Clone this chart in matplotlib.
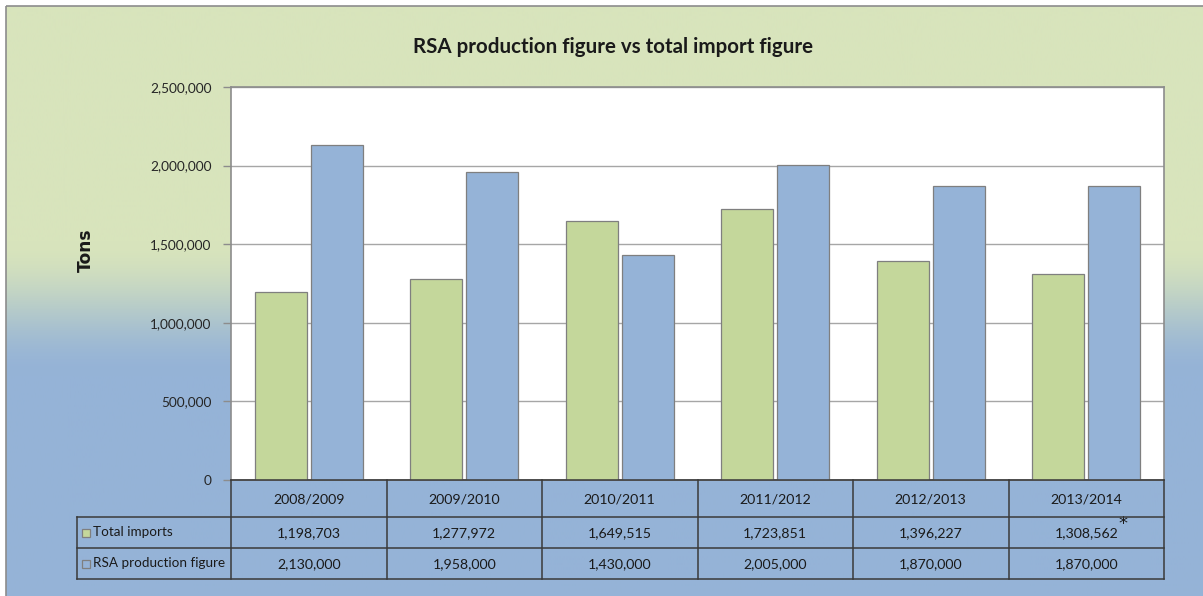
import numpy as np
import matplotlib
matplotlib.use("Agg")
import matplotlib.pyplot as plt
import matplotlib.transforms as mtransforms
from matplotlib.patches import Rectangle
from matplotlib.ticker import FuncFormatter

# ---- data ----
seasons = ["2008/2009", "2009/2010", "2010/2011", "2011/2012", "2012/2013", "2013/2014"]
total_imports = [1198703, 1277972, 1649515, 1723851, 1396227, 1308562]
rsa_production = [2130000, 1958000, 1430000, 2005000, 1870000, 1870000]
series_names = ["Total imports", "RSA production figure"]
title = "RSA production figure vs total import figure"

W, H = 1203, 596
GREEN = "#C4D79B"
BLUE = "#95B3D7"
BG_GREEN = np.array([0xD8, 0xE4, 0xBC]) / 255
BG_BLUE = np.array([0x95, 0xB3, 0xD7]) / 255
FONT = "Lato"

fig = plt.figure(figsize=(W / 100, H / 100), dpi=100)
fig.patch.set_facecolor("white")

# background gradient axes (pixel coords)
bg = fig.add_axes([0, 0, 1, 1])
bg.set_xlim(0, W)
bg.set_ylim(H, 0)
bg.axis("off")
ys = np.arange(H)
t = np.clip((ys - 235) / (370 - 235), 0, 1)
t = t * t * (3 - 2 * t)
grad = (BG_GREEN[None, :] * (1 - t[:, None]) + BG_BLUE[None, :] * t[:, None])
img = np.repeat(grad[:, None, :], 10, axis=1)
bg.imshow(img, extent=[6, W + 5, H + 5, 6], aspect="auto", zorder=0)
bg.add_patch(Rectangle((6, 6), W, H, fill=False, edgecolor="#8c8c8c", lw=1.2, zorder=1))
bg.text(613, 47, title, ha="center", va="center", fontsize=14.8, fontweight="bold",
        family=FONT, color="#1a1a1a")
bg.text(86, 250, "Tons", ha="center", va="center", rotation=90, fontsize=12.3,
        fontweight="bold", family="DejaVu Sans", color="#1a1a1a")

# main axes
L, R, T, B = 231, 1164, 87, 480
ax = fig.add_axes([L / W, (H - B) / H, (R - L) / W, (B - T) / H])
ax.set_facecolor("white")
x = np.arange(len(seasons))
bw = 0.335
ax.bar(x - 0.18, total_imports, bw, color=GREEN, edgecolor="#7f7f7f", lw=0.9, zorder=3)
ax.bar(x + 0.18, rsa_production, bw, color=BLUE, edgecolor="#7f7f7f", lw=0.9, zorder=3)
ax.set_xlim(-0.5, len(seasons) - 0.5)
ax.set_ylim(0, 2500000)
ax.set_yticks(np.arange(0, 2500001, 500000))
ax.yaxis.set_major_formatter(FuncFormatter(lambda v, p: f"{int(v):,}"))
ax.grid(axis="y", color="#a6a6a6", lw=1, zorder=0)
ax.set_xticks([])
ax.tick_params(axis="y", length=6, width=1, color="#8c8c8c", labelsize=9.8,
               labelcolor="#262626", pad=8)
for lab in ax.get_yticklabels():
    lab.set_family(FONT)
for s in ax.spines.values():
    s.set_color("#8c8c8c")
    s.set_linewidth(1.2)

# data table below
def fy(py):
    return (H - py) / H

trans = mtransforms.blended_transform_factory(ax.transData, fig.transFigure)
col_px = (R - L) / len(seasons)
x_left = -0.5 - (L - 77) / col_px
xr = len(seasons) - 0.5
rows = [480, 517, 548, 579]
lc = "#3a3a3a"
kw = dict(transform=trans, color=lc, lw=1.1, clip_on=False, zorder=5)
ax.plot([-0.5, xr], [fy(rows[0])] * 2, **kw)
for r in rows[1:]:
    ax.plot([x_left, xr], [fy(r)] * 2, **kw)
for i in range(len(seasons) + 1):
    ax.plot([-0.5 + i] * 2, [fy(rows[0]), fy(rows[3])], **kw)
ax.plot([x_left] * 2, [fy(rows[1]), fy(rows[3])], **kw)

tkw = dict(transform=trans, ha="center", va="center", fontsize=10.2, family=FONT,
           color="#1a1a1a", clip_on=False, zorder=6)
for i, s in enumerate(seasons):
    ax.text(i, fy(499), s, **tkw)
    ax.text(i, fy(533), f"{total_imports[i]:,}", **tkw)
    ax.text(i, fy(564), f"{rsa_production[i]:,}", **tkw)
ax.text(len(seasons) - 1 + 0.235, fy(524), "*", transform=trans, ha="center",
        va="center", fontsize=13, family="DejaVu Sans", color="#1a1a1a", clip_on=False)

key_w = 8 / col_px
for j, (name, col) in enumerate(zip(series_names, [GREEN, BLUE])):
    yc = [533, 564][j]
    ax.add_patch(Rectangle((x_left + 5 / col_px, fy(yc + 4)), key_w, 8 / H,
                           transform=trans, facecolor=col, edgecolor="#7f7f7f",
                           lw=0.9, clip_on=False, zorder=6))
    ax.text(x_left + 16 / col_px, fy(yc - 1), name, transform=trans, ha="left",
            va="center", fontsize=9.7, family=FONT, color="#1a1a1a",
            clip_on=False, zorder=6)

fig.savefig("out.png", dpi=100)
